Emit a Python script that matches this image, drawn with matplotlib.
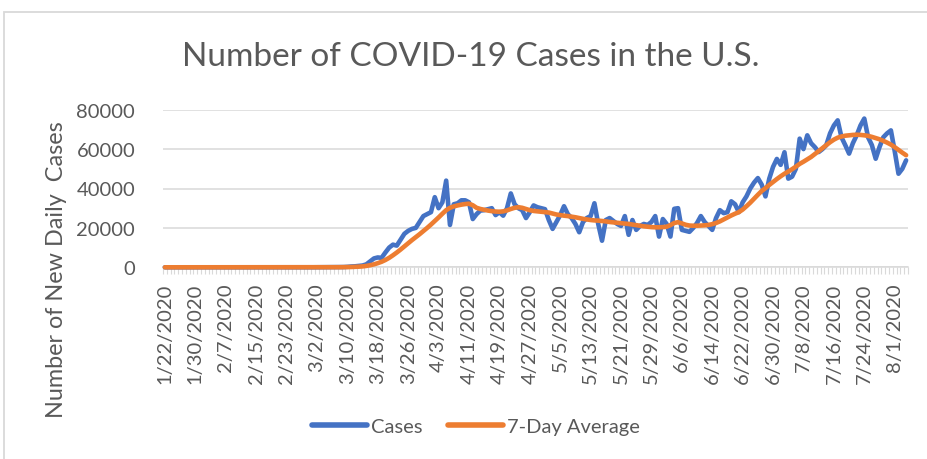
import datetime as dt
import matplotlib
matplotlib.use("Agg")
import matplotlib.pyplot as plt
import matplotlib.lines as mlines
from matplotlib.patches import Rectangle

START = dt.date(2020, 1, 22)

# daily new cases, one row per week starting 1/22/2020
CASES = [
    1, 0, 1, 0, 3, 0, 0,
    0, 0, 2, 1, 0, 3, 0,
    0, 0, 0, 0, 1, 0, 0,
    0, 0, 0, 0, 0, 0, 1,
    0, 0, 0, 0, 0, 0, 0,
    3, 0, 1, 2, 9, 18, 27,
    30, 50, 60, 100, 120, 130, 230,
    400, 500, 700, 900, 1500, 3000, 4500,
    5000, 4800, 7500, 10000, 11500, 11000, 14000,
    17000, 18500, 19500, 20000, 23000, 26000, 27000,
    28000, 35600, 30000, 33000, 44000, 21500, 32000,
    32500, 34000, 34000, 33000, 24500, 27000, 28800,
    29000, 29500, 30000, 26500, 28000, 26200, 30000,
    37500, 32000, 30000, 29000, 25000, 28000, 31400,
    30500, 30000, 29500, 24000, 19500, 23000, 26500,
    31000, 27000, 25000, 22000, 17800, 23000, 25000,
    26000, 32500, 22000, 13500, 24000, 25000, 23500,
    22000, 21000, 26000, 16500, 24000, 19000, 21000,
    22000, 21500, 23000, 26000, 15600, 24500, 22000,
    15600, 29700, 30000, 19000, 18500, 18000, 20000,
    22500, 26000, 23000, 21000, 19000, 25000, 29000,
    27500, 28000, 33500, 32000, 28000, 33000, 36000,
    40000, 43000, 45300, 42000, 36000, 45000, 51000,
    55000, 52000, 58400, 45000, 46000, 50000, 65300,
    60000, 67000, 63000, 61000, 58500, 60000, 62000,
    68000, 72000, 74600, 66000, 62000, 57700, 63000,
    67000, 72000, 75500, 66000, 62000, 55100, 61000,
    66000, 68000, 69500, 59000, 47500, 50000, 54300,
]

# 7-day average
AVG7 = [
    0, 0, 0, 0, 0, 0, 0,
    0, 0, 0, 0, 0, 0, 0,
    0, 0, 0, 0, 0, 0, 0,
    0, 0, 0, 0, 0, 0, 0,
    0, 0, 0, 0, 0, 0, 0,
    0, 0, 0, 1, 2, 5, 8,
    12, 20, 28, 40, 55, 75, 100,
    150, 220, 320, 460, 700, 1050, 1500,
    2100, 2800, 3700, 4800, 6100, 7500, 9000,
    10600, 12200, 13800, 15300, 16800, 18400, 20000,
    21700, 23500, 25300, 27200, 29000, 30200, 30900,
    31400, 31800, 32100, 32300, 31500, 30200, 29600,
    29200, 28800, 28500, 28300, 28200, 28400, 28900,
    29600, 30200, 30500, 30200, 29600, 29000, 28600,
    28400, 28200, 28000, 27800, 27300, 26800, 26500,
    26200, 26000, 25700, 25400, 25000, 24600, 24300,
    24000, 23800, 23700, 23500, 23300, 23000, 22800,
    22600, 22400, 22200, 22000, 21700, 21400, 21100,
    20800, 20600, 20400, 20300, 20300, 20400, 20600,
    21400, 22500, 22900, 22300, 21600, 21200, 21100,
    21100, 21200, 21300, 21500, 21900, 22500, 23300,
    24300, 25300, 26300, 27200, 28000, 29300, 31000,
    32800, 34800, 36800, 38700, 40200, 41800, 43300,
    44800, 46200, 47500, 48600, 49800, 51100, 52500,
    53600, 54800, 56000, 57500, 59000, 60500, 62000,
    63500, 64800, 65800, 66400, 66800, 67000, 67200,
    67300, 67200, 67000, 66700, 66200, 65600, 65000,
    64200, 63300, 62300, 61000, 59600, 58200, 56900,
]

Y_TICKS = [0, 20000, 40000, 60000, 80000]
LABEL_EVERY = 8

C_CASES = "#4472C4"
C_AVG = "#ED7D31"
C_GRID = "#D9D9D9"
C_TEXT = "#595959"
FONT = "Lato"

plt.rcParams["font.family"] = [FONT, "DejaVu Sans"]

W, H = 928, 460
fig = plt.figure(figsize=(W / 100, H / 100), dpi=100)

# chart frame (runs off right/bottom like the screenshot)
fig.patches.append(Rectangle((4 / W, -0.1), 1.2, 1.1 - 12.5 / H,
                             transform=fig.transFigure, fill=False,
                             edgecolor=C_GRID, lw=1.3))

# caption above the frame, mostly cut off in the screenshot
fig.text(-2 / W, 1 + 4 / H,
         "Figure 3: U.S. COVID-19 daily new cases reported per day and the 7-day average",
         color="#1F95D8", fontsize=15, fontweight="bold", va="baseline", ha="left")

ax = fig.add_axes([163 / W, 1 - 268.3 / H, (908 - 163) / W, (268.3 - 110.7) / H])

n = len(CASES)
xs = list(range(n))
ax.plot(xs, CASES, color=C_CASES, lw=3.3, solid_joinstyle="round",
        solid_capstyle="round", zorder=3, clip_on=False)
ax.plot(xs, AVG7, color=C_AVG, lw=3.3, solid_joinstyle="round",
        solid_capstyle="round", zorder=4, clip_on=False)

ax.set_xlim(-0.5, n - 0.5)
ax.set_ylim(0, 80000)
ax.set_yticks(Y_TICKS)
ax.set_yticklabels([str(v) for v in Y_TICKS])
ax.yaxis.grid(True, color=C_GRID, lw=1.1)
ax.set_axisbelow(True)

dates = [START + dt.timedelta(days=i) for i in range(n)]
lab_pos = list(range(0, n, LABEL_EVERY))
ax.set_xticks(lab_pos)
ax.set_xticklabels([f"{dates[i].month}/{dates[i].day}/{dates[i].year}" for i in lab_pos],
                   rotation=90, va="top", ha="center")
ax.set_xticks([i - 0.5 for i in range(n + 1)], minor=True)

for s in ["top", "right", "left"]:
    ax.spines[s].set_visible(False)
ax.spines["bottom"].set_color(C_GRID)
ax.spines["bottom"].set_linewidth(1.1)

ax.tick_params(axis="x", which="major", length=0, pad=11, labelsize=14.5, labelcolor=C_TEXT)
ax.tick_params(axis="x", which="minor", length=5, width=0.8, color=C_GRID)
ax.tick_params(axis="y", length=0, pad=20, labelsize=14.5, labelcolor=C_TEXT)

fig.text(471 / W, 1 - 57 / H, "Number of COVID-19 Cases in the U.S.",
         ha="center", va="center", fontsize=24, color=C_TEXT)
fig.text(57 / W, 1 - 270 / H, "Number of New Daily  Cases", rotation=90,
         ha="center", va="center", fontsize=16.8, color=C_TEXT)

handles = [mlines.Line2D([], [], color=C_CASES, lw=4, solid_capstyle="round"),
           mlines.Line2D([], [], color=C_AVG, lw=4, solid_capstyle="round")]
fig.legend(handles, ["Cases", "7-Day Average"], loc="center",
           bbox_to_anchor=(476 / W, 1 - 427 / H), ncol=2, frameon=False,
           fontsize=14.5, labelcolor=C_TEXT, handlelength=2.7,
           handletextpad=0.2, columnspacing=1.3)

fig.savefig("out.png", dpi=100)
